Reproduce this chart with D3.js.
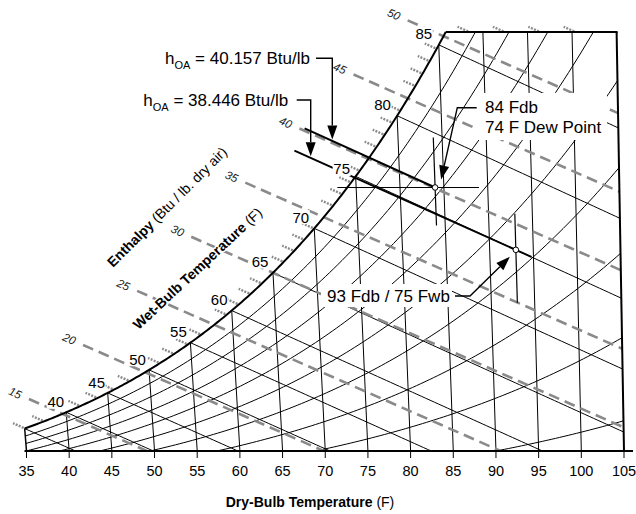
<!DOCTYPE html>
<html>
<head>
<meta charset="utf-8">
<script src="https://cdn.jsdelivr.net/npm/d3@7/dist/d3.min.js"></script>
<style>
html,body{margin:0;padding:0;background:#fff;}
svg{display:block;font-family:"Liberation Sans",Arial,Helvetica,sans-serif;}
</style>
</head>
<body>
<svg id="chart" width="636" height="514"></svg>
<script>
// ---------------- data ----------------
const dryBulbTicks = [35,40,45,50,55,60,65,70,75,80,85,90,95,100,105];
const wetBulbLines = [35,40,45,50,55,60,65,70,75,80,85];
const wetBulbLabels = [40,45,50,55,60,65,70,75,80,85];
const rhLevels = [0.1,0.2,0.3,0.4,0.5,0.6,0.7,0.8,0.9];
const enthalpyLabels = [15,20,25,30,35,40,45,50];
const enthalpyMinorTicks = [13,14,16,17,18,19,21,22,23,24,26,27,28,29,31,32,33,34,36,37,38,39,41,42,43,44,46,47,48,49,51,52,53,54];
const humidityRatioRange = [0.00297, 0.02705];   // lb/lb dry air, bottom and top of chart
const dryBulbRange = [35, 105];
const outsideAirEnthalpy = [40.157, 38.446];
const stateA = {db: 84, dewPoint: 74};
const stateB = {db: 93, wb: 75};

// ---------------- psychrometrics (IP units) ----------------
const P = 14.696, K = 1116.3;
function pws(t){ const T = t + 459.67;
  return Math.exp(-1.0440397e4/T - 11.29465 - 2.7022355e-2*T + 1.289036e-5*T*T - 2.4780681e-9*T*T*T + 6.5459673*Math.log(T)); }
const wOfPw = pw => 0.621945*pw/(P - pw);
const wSat = t => wOfPw(pws(t));
const wRH = (t, rh) => wOfPw(rh*pws(t));
const wWB = (t, tw) => ((1093 - 0.556*tw)*wSat(tw) - 0.240*(t - tw))/(1093 + 0.444*t - tw);
const enth = (t, W) => 0.240*t + W*(1061 + 0.444*t);
const obl = (t, W) => enth(t, W) - K*W;   // oblique abscissa coordinate

const [Wb, Wt] = humidityRatioRange;
const [t0, t1] = dryBulbRange;
const x = d3.scaleLinear().domain([obl(t0, Wb), obl(t1, Wb)]).range([26.5, 624]);
const y = d3.scaleLinear().domain([Wb, Wt]).range([451, 32]);
const PT = (t, W) => [x(obl(t, W)), y(W)];
const PH = (h, W) => [x(h - K*W), y(W)];
function bisect(f, a, b){ let fa = f(a); for(let i=0;i<80;i++){ const m=(a+b)/2, fm=f(m); if((fa<0)===(fm<0)){a=m;fa=fm;} else b=m; } return (a+b)/2; }
const tTop = bisect(t => wSat(t) - Wt, t0, t1);
const line = d3.line();
const svg = d3.select("#chart");

// ---------------- chart region ----------------
const satCurve = d3.range(t0, tTop, 0.25).map(t => PT(t, wSat(t)));
satCurve.push(PT(tTop, Wt));
const boundary = [PT(t0, Wb), PT(t1, Wb), PT(t1, Wt), ...satCurve.slice().reverse()];
svg.append("defs").append("clipPath").attr("id", "clip").append("path").attr("d", line(boundary) + "Z");
const grid = svg.append("g").attr("clip-path", "url(#clip)").attr("fill", "none").attr("stroke", "#000").attr("stroke-width", 1);

// relative humidity curves
rhLevels.forEach(rh => {
  const pts = [];
  for (let t = t0; t <= t1 + 0.001; t += 0.5) {
    const W = wRH(t, rh);
    if (W < Wb - 0.002) continue;
    pts.push(PT(t, W));
    if (W > Wt + 0.002) break;
  }
  grid.append("path").attr("d", line(pts));
});
// dry-bulb lines
dryBulbTicks.filter(t => t > t0 && t < t1).forEach(t => {
  grid.append("path").attr("d", line([PT(t, Wb - 0.001), PT(t, Math.min(wSat(t), Wt) + 0.001)]));
});
// wet-bulb lines
wetBulbLines.forEach(tw => {
  const pts = [];
  for (let t = tw - 1; t <= t1 + 1; t += 0.5) {
    const W = wWB(t, tw);
    pts.push(PT(t, W));
    if (W < Wb - 0.002) break;
  }
  grid.append("path").attr("d", line(pts));
});

// ---------------- enthalpy scale ----------------
const dirH = (() => { const a = PH(30, Wt), b = PH(30, Wb); const dx = b[0]-a[0], dy = b[1]-a[1], L = Math.hypot(dx, dy); return [dx/L, dy/L]; })();
const angH = Math.atan2(dirH[1], dirH[0]) * 180 / Math.PI;
const startW = (h, s) => bisect(W => { const p = PH(h, W); return p[0] + p[1] - s; }, -0.02, 0.08);
const endW = h => Math.max(Wb, (h - 0.240*t1)/(1061 + 0.444*t1));
const hCorner = enth(tTop, Wt);

const enthG = svg.append("g").attr("fill", "none").attr("stroke", "#8a8a8a");
enthalpyLabels.forEach(h => {
  const s = PH(h, startW(h, 428)), e = PH(h, endW(h));
  enthG.append("path").attr("d", line([s, e])).attr("stroke-width", 2.6).attr("stroke-dasharray", "11,6");
  const c = [s[0] - 15*dirH[0], s[1] - 15*dirH[1]];
  svg.append("text").attr("transform", `translate(${c[0]},${c[1]}) rotate(${angH})`)
    .attr("text-anchor", "middle").attr("dy", "0.35em").attr("font-size", 11.5).attr("font-style", "italic")
    .attr("fill", "#222").text(h);
});
enthalpyMinorTicks.forEach(h => {
  const W0 = h <= hCorner ? wSat(bisect(t => enth(t, wSat(t)) - h, t0 - 5, tTop)) : Wt;
  const p0 = PH(h, W0);
  const p1 = [p0[0] - 13*dirH[0], p0[1] - 13*dirH[1]];
  enthG.append("path").attr("d", line([[p0[0]-1.5*dirH[0], p0[1]-1.5*dirH[1]], p1])).attr("stroke-width", 2.4).attr("stroke-dasharray", "2,1.3");
});

// ---------------- boundaries & axis ----------------
const bd = svg.append("g").attr("fill", "none").attr("stroke", "#000");
bd.append("path").attr("d", line([[x(obl(t0, Wb)) - 2, 451], [633, 451]])).attr("stroke-width", 2);
bd.append("path").attr("d", line([PT(t1, Wb), PT(t1, Wt)])).attr("stroke-width", 2);
bd.append("path").attr("d", line([PT(tTop, Wt), [PT(t1, Wt)[0] + 1, y(Wt)]])).attr("stroke-width", 2);
bd.append("path").attr("d", line([PT(t0, Wb), PT(t0, wSat(t0))])).attr("stroke-width", 1.5);
bd.append("path").attr("d", line(satCurve)).attr("stroke-width", 2);
dryBulbTicks.forEach(t => {
  const px = x(obl(t, Wb));
  bd.append("path").attr("d", line([[px, 451], [px, 458]])).attr("stroke-width", 1);
  svg.append("text").attr("x", px).attr("y", 476).attr("text-anchor", "middle").attr("font-size", 14.5).text(t);
});

// ---------------- annotations (lines) ----------------
const WA = wSat(stateA.dewPoint), pA = PT(stateA.db, WA);
const WBv = wWB(stateB.db, stateB.wb), pB = PT(stateB.db, WBv);
const s1 = PH(outsideAirEnthalpy[0], startW(outsideAirEnthalpy[0], 433));
const s2 = PH(outsideAirEnthalpy[1], startW(outsideAirEnthalpy[1], 445));
const u2 = (() => { const dx = pB[0]-s2[0], dy = pB[1]-s2[1], L = Math.hypot(dx, dy); return [dx/L, dy/L]; })();
const an = svg.append("g").attr("fill", "none").attr("stroke", "#000");
an.append("path").attr("d", line([s1, pA])).attr("stroke-width", 2);
an.append("path").attr("d", line([s2, [pB[0] + 17*u2[0], pB[1] + 17*u2[1]]])).attr("stroke-width", 2);
an.append("path").attr("d", line([[PT(stateA.dewPoint, WA)[0] - 10, pA[1]], PT(stateA.db + 5, WA)])).attr("stroke-width", 1.2);
an.append("path").attr("d", line([PT(stateA.db, y.invert(pA[1] - 50)), PT(stateA.db, y.invert(pA[1] + 38))])).attr("stroke-width", 1.2);
an.append("path").attr("d", line([PT(stateB.db, y.invert(pB[1] - 36)), PT(stateB.db, y.invert(pB[1] + 53))])).attr("stroke-width", 1.2);

// ---------------- wet-bulb labels ----------------
wetBulbLabels.forEach(tw => {
  const p = PT(tw, wSat(tw));
  const cx = p[0] - 10.5 - 0.1*(tw - 40), cy = p[1] - 10.5 - 0.025*(tw - 40) + (tw === 75 ? 4 : 0);
  svg.append("rect").attr("x", cx - 9).attr("y", cy - 7).attr("width", 18).attr("height", 14).attr("fill", "#fff");
  svg.append("text").attr("x", cx).attr("y", cy).attr("dy", "0.36em").attr("text-anchor", "middle").attr("font-size", 15).text(tw);
});

// state points
[pA, pB].forEach(p => svg.append("circle").attr("cx", p[0]).attr("cy", p[1]).attr("r", 2.8).attr("fill", "#fff").attr("stroke", "#000").attr("stroke-width", 1));

// ---------------- arrows & callouts ----------------
function arrow(pts, tip, len = 14, hw = 5) {
  const prev = pts[pts.length - 1];
  const dx = tip[0] - prev[0], dy = tip[1] - prev[1], L = Math.hypot(dx, dy), ux = dx/L, uy = dy/L;
  const base = [tip[0] - len*ux, tip[1] - len*uy];
  svg.append("path").attr("d", line([...pts, base])).attr("fill", "none").attr("stroke", "#000").attr("stroke-width", 1.4);
  svg.append("path").attr("d", line([tip, [base[0] - hw*uy, base[1] + hw*ux], [base[0] + hw*uy, base[1] - hw*ux]]) + "Z").attr("fill", "#000");
}
const onLine = (a, b, px) => a[1] + (px - a[0])*(b[1] - a[1])/(b[0] - a[0]);
arrow([[316, 58.3], [332.3, 58.3]], [332.3, onLine(s1, pA, 332.3) - 1.5]);
arrow([[296.7, 100], [310.7, 100]], [310.7, onLine(s2, pB, 310.7) - 1.5]);
arrow([[476.7, 107.7], [457.3, 107.7]], [pA[0] + 6, pA[1] - 8]);
arrow([[455, 296], [470, 296]], [pB[0] - 6, pB[1] + 7]);

function hText(tx, ty, val) {
  const t = svg.append("text").attr("x", tx).attr("y", ty).attr("font-size", 17);
  t.append("tspan").text("h");
  t.append("tspan").attr("font-size", 11).attr("dy", 5).text("OA");
  t.append("tspan").attr("dy", -5).text(" = " + val + " Btu/lb");
}
hText(165, 63.5, outsideAirEnthalpy[0].toFixed(3));
hText(143.3, 106, outsideAirEnthalpy[1].toFixed(3));

svg.append("rect").attr("x", 477).attr("y", 93).attr("width", 130).attr("height", 47).attr("fill", "#fff");
svg.append("text").attr("x", 485).attr("y", 113).attr("font-size", 17).text(stateA.db + " Fdb");
svg.append("text").attr("x", 485).attr("y", 133).attr("font-size", 17).text(stateA.dewPoint + " F Dew Point");
svg.append("rect").attr("x", 321).attr("y", 284).attr("width", 131).attr("height", 23).attr("fill", "#fff");
svg.append("text").attr("x", 327).attr("y", 302).attr("font-size", 17).text(stateB.db + " Fdb / " + stateB.wb + " Fwb");

// ---------------- titles ----------------
function title(tx, ty, rot, bold, normal) {
  const t = svg.append("text").attr("transform", `translate(${tx},${ty}) rotate(${rot})`)
    .attr("text-anchor", "middle").attr("dy", "0.35em").attr("font-size", 14)
    .attr("stroke", "#fff").attr("stroke-width", rot ? 3 : 0).attr("paint-order", "stroke");
  t.append("tspan").attr("font-weight", "bold").text(bold);
  t.append("tspan").text(normal);
}
title(310, 502, 0, "Dry-Bulb Temperature", " (F)");
title(167, 207, -45, "Enthalpy", " (Btu / lb. dry air)");
title(197.5, 268.5, -43, "Wet-Bulb Temperature", " (F)");
</script>
</body>
</html>
